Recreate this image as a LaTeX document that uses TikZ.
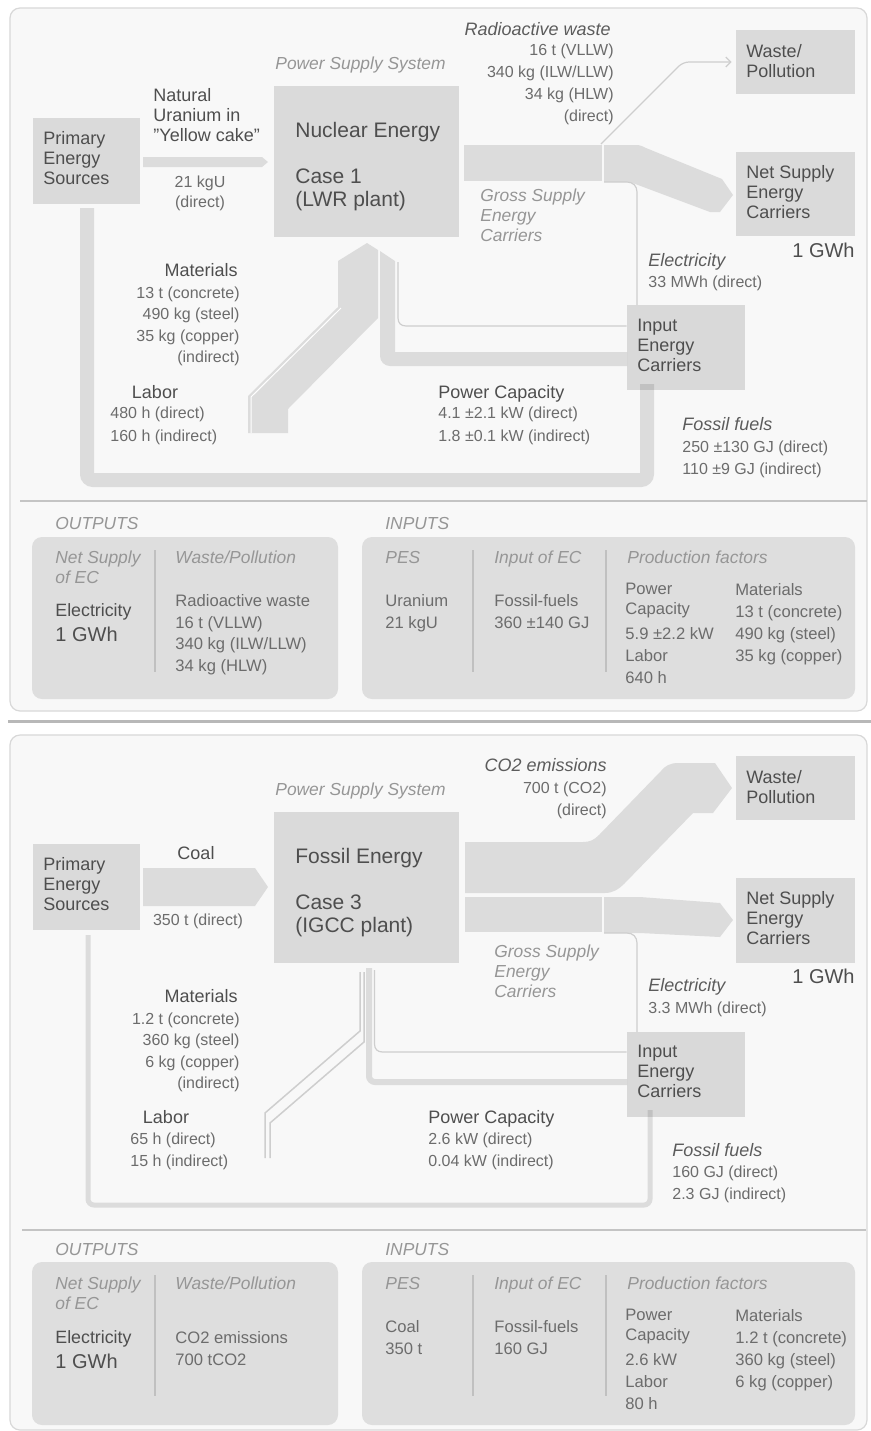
\documentclass[tikz,border=0pt]{standalone}
\usepackage{fontspec}
\setmainfont{Liberation Sans}
\usetikzlibrary{arrows.meta}

\definecolor{panelbg}{RGB}{248,248,248}
\definecolor{panelrule}{RGB}{216,216,216}
\definecolor{boxfill}{RGB}{218,218,218}
\definecolor{flowfill}{RGB}{220,220,220}
\definecolor{flowline}{RGB}{206,206,206}
\definecolor{sumfill}{RGB}{222,222,222}
\definecolor{sumrule}{RGB}{192,192,192}
\definecolor{sepline}{RGB}{196,196,196}
\definecolor{shadeline}{RGB}{184,184,184}
\definecolor{txtmain}{RGB}{78,78,78}
\definecolor{txtval}{RGB}{108,108,108}
\definecolor{txtlight}{RGB}{150,150,150}
\definecolor{txtital}{RGB}{92,92,92}

\tikzset{
  blk/.style={fill=boxfill, inner sep=0pt},
  tl/.style={inner sep=0pt, anchor=north west, align=left},
  tr/.style={inner sep=0pt, anchor=north east, align=right},
  tc/.style={inner sep=0pt, anchor=north, align=center},
  boxtext/.style={font=\fontsize{9}{10}\selectfont, text=txtmain},
  planttext/.style={font=\fontsize{10.5}{11.5}\selectfont, text=txtmain},
  head/.style={font=\fontsize{9}{10}\selectfont, text=txtmain},
  val/.style={font=\fontsize{8}{11}\selectfont, text=txtval},
  note/.style={font=\itshape\fontsize{8.7}{10}\selectfont, text=txtlight},
  flowname/.style={font=\itshape\fontsize{9}{10}\selectfont, text=txtital},
  sumval/.style={font=\fontsize{8.3}{10.8}\selectfont, text=txtval},
  sumhead/.style={font=\fontsize{8.9}{10}\selectfont, text=txtmain},
  gwh/.style={font=\fontsize{10}{12}\selectfont, text=txtmain},
  thinflow/.style={draw=flowline, line width=0.6pt},
  panel/.style={fill=panelbg, draw=panelrule, line width=0.6pt, rounded corners=5pt},
  sumbox/.style={fill=sumfill, rounded corners=5pt},
  divider/.style={draw=sumrule, line width=0.6pt},
}

\begin{document}
\begin{tikzpicture}[x=0.5pt,y=-0.5pt]
\useasboundingbox[fill=white] (0,0) rectangle (871,1431);

% =================== upper panel: nuclear energy ===================
\path[panel] (10,8) rectangle (867,711);
\draw[sepline, line width=0.6pt] (20,501) -- (867,501);
\draw[shadeline, line width=1.5pt] (8,721) -- (871,721);

% flows
\fill[flowfill] (143,157) -- (262,157) -- (268,162) -- (262,167) -- (143,167) -- cycle;
\draw[flowfill, line width=7pt, rounded corners=3pt] (87,208) -- (87,480) -- (647,480) -- (647,384);
\fill[flowfill] (248,433) -- (248,396) -- (338,307) -- (338,261) -- (367,243) -- (378,250)
  -- (378,318) -- (288,409) -- (288,433) -- cycle;
\draw[white, line width=0.5pt] (251,433) -- (251,397) -- (341,308);
\fill[flowfill] (380,251) -- (395,261) -- (395,352) -- (627,352) -- (627,366) -- (390,366)
  .. controls (384.5,366) and (380,361.5) .. (380,356) -- cycle;
\fill[flowfill] (464,145) rectangle (602,181);
\fill[flowfill] (604,145) -- (636,145) .. controls (640,145) and (642,146) .. (646,148)
  -- (722,179) -- (733,195) -- (720,212) -- (710,212) -- (630,182) -- (604,182) -- cycle;

% boxes
\node[blk, minimum width=53.5pt, minimum height=43pt] (pesA) at (86.5,161) {};
\node[blk, minimum width=92.5pt, minimum height=75.5pt] (nucA) at (366.5,161.5) {};
\node[blk, minimum width=59.5pt, minimum height=32pt] (wasteA) at (795.5,62) {};
\node[blk, minimum width=59.5pt, minimum height=42pt] (netA) at (795.5,194) {};
\node[fill=black, fill opacity=0.12, inner sep=0pt, minimum width=59pt, minimum height=42.5pt] (inA) at (686,347.5) {};

% thin connectors
\draw[thinflow, rounded corners=3pt, -{Straight Barb[length=2.5pt,width=5pt]}]
  (601,144) -- (683,62) -- ([xshift=-2pt]wasteA.west);
\coordinate (elA) at (604,182);
\draw[thinflow] (elA) -- (627,182) .. controls (633,182) and (637,186) .. (637,192) -- (637,305);
\draw[thinflow] (398,262) -- (398,318) .. controls (398,323) and (401,326) .. (406,326) -- (inA.west |- 0,326);

% texts
\node[tl, boxtext] (pesAt) at (43,131) {Primary\\Energy\\Sources};
\node[tl, head] (uranA) at (153,88) {Natural\\Uranium in\\\char"22{}Yellow cake\char"22{}};
\node[tc, val, font=\fontsize{8}{10}\selectfont] (uranAv) at (200,175) {21 kgU\\(direct)};
\node[tl, note] (pssA) at (275,56) {Power Supply System};
\node[tl, planttext] (nucAt) at (295,122) {Nuclear Energy\\[11.5pt]Case 1\\(LWR plant)};
\node[tr, flowname] (radA) at (611,22) {Radioactive waste};
\node[tr, val] (radAv) at (614,43) {16 t (VLLW)\\340 kg (ILW/LLW)\\34 kg (HLW)\\(direct)};
\node[tl, boxtext] (wasteAt) at (746,44.5) {Waste/\\Pollution};
\node[tl, boxtext] (netAt) at (746,165) {Net Supply\\Energy\\Carriers};
\node[tr, gwh] (gwhA) at (855,243) {1 GWh};
\node[tl, note] (grossA) at (480,188.5) {Gross Supply\\Energy\\Carriers};
\node[tl, flowname] (elecA) at (648,253) {Electricity};
\node[tl, val] (elecAv) at (648,275) {33 MWh (direct)};
\node[tl, boxtext] (inAt) at (637,319) {Input\\Energy\\Carriers};
\node[tr, head] (matA) at (238,263) {Materials};
\node[tr, val, font=\fontsize{8}{10.8}\selectfont] (matAv) at (240,286) {13 t (concrete)\\490 kg (steel)\\35 kg (copper)\\(indirect)};
\node[tc, head] (labA) at (155,385) {Labor};
\node[tl, val, font=\fontsize{8}{11.5}\selectfont] (labAv) at (110,406) {480 h (direct)\\160 h (indirect)};
\node[tl, head] (capA) at (438,385) {Power Capacity};
\node[tl, val, font=\fontsize{8}{11.5}\selectfont] (capAv) at (438,406) {4.1 ±2.1 kW (direct)\\1.8 ±0.1 kW (indirect)};
\node[tl, flowname] (fosA) at (682,417) {Fossil fuels};
\node[tl, val] (fosAv) at (682,440) {250 ±130 GJ (direct)\\110 ±9 GJ (indirect)};

% summary
\node[tl, note] (outA) at (55,516.5) {OUTPUTS};
\node[tl, note] (inpA) at (385,516.5) {INPUTS};
\path[sumbox] (32,537) rectangle (338,699);
\path[sumbox] (362,537) rectangle (855,699);
\draw[divider] (155,550) -- (155,672);
\draw[divider] (473,550) -- (473,672);
\draw[divider] (606,550) -- (606,672);
\node[tl, note] (sA1) at (55,550.5) {Net Supply\\of EC};
\node[tl, sumhead] (sA2) at (55,603.5) {Electricity};
\node[tl, gwh] (sA3) at (55,626.5) {1 GWh};
\node[tl, note] (sA4) at (175,550.5) {Waste/Pollution};
\node[tl, sumval] (sA5) at (175,594) {Radioactive waste\\16 t (VLLW)\\340 kg (ILW/LLW)\\34 kg (HLW)};
\node[tl, note] (sA6) at (385,550.5) {PES};
\node[tl, sumval] (sA7) at (385,594) {Uranium\\21 kgU};
\node[tl, note] (sA8) at (494,550.5) {Input of EC};
\node[tl, sumval] (sA9) at (494,594) {Fossil-fuels\\360 ±140 GJ};
\node[tl, note] (sA10) at (627,550.5) {Production factors};
\node[tl, sumval, font=\fontsize{8.3}{9.8}\selectfont] (sA11) at (625,583) {Power\\Capacity};
\node[tl, sumval, font=\fontsize{8.3}{11}\selectfont] (sA12) at (625,627) {5.9 ±2.2 kW\\Labor\\640 h};
\node[tl, sumval, font=\fontsize{8.3}{11}\selectfont] (sA13) at (735,583) {Materials\\13 t (concrete)\\490 kg (steel)\\35 kg (copper)};

% =================== lower panel: fossil energy ===================
\path[panel] (10,735) rectangle (867,1430);
\draw[sepline, line width=0.6pt] (22,1230) -- (866,1230);

% flows
\fill[flowfill] (143,868) -- (255,868) -- (268,887) -- (255,906) -- (143,906) -- cycle;
\draw[flowfill, line width=2.5pt, rounded corners=3pt] (88,935) -- (88,1205) -- (650,1205) -- (650,1110);
\draw[flowline, line width=0.75pt] (265,1158) -- (265,1113) -- (360,1031) -- (360,972);
\draw[flowline, line width=0.75pt] (270,1158) -- (270,1123) -- (364,1042) -- (364,972);
\draw[flowfill, line width=3pt, rounded corners=3pt] (369,968) -- (369,1082) -- (627,1082);
\fill[flowfill] (465,842) -- (583,842) .. controls (590,842) and (594,840) .. (599,835)
  -- (661,771) .. controls (665,766) and (670,763) .. (678,763) -- (715,763) -- (732,788)
  -- (713,813) -- (693,813) -- (624,884) .. controls (619,889) and (613,893) .. (605,893)
  -- (465,893) -- cycle;
\fill[flowfill] (465,897) rectangle (602,932);
\fill[flowfill] (604,897) -- (640,897) -- (720,903) -- (733,920) -- (720,937) -- (640,933) -- (604,933) -- cycle;

% boxes
\node[blk, minimum width=53.5pt, minimum height=43pt] (pesB) at (86.5,887) {};
\node[blk, minimum width=92.5pt, minimum height=75.5pt] (nucB) at (366.5,887.5) {};
\node[blk, minimum width=59.5pt, minimum height=32pt] (wasteB) at (795.5,788) {};
\node[blk, minimum width=59.5pt, minimum height=42.5pt] (netB) at (795.5,920.5) {};
\node[fill=black, fill opacity=0.12, inner sep=0pt, minimum width=59pt, minimum height=42.5pt] (inB) at (686,1074.5) {};

% thin connectors
\coordinate (elB) at (604,933);
\draw[thinflow] (elB) -- (627,933) .. controls (633,933) and (637,937) .. (637,943) -- (637,1032);
\draw[thinflow] (374.5,970) -- (374.5,1044) .. controls (374.5,1049) and (377.5,1052) .. (382.5,1052) -- (inB.west |- 0,1052);

% texts
\node[tl, boxtext] (pesBt) at (43,857) {Primary\\Energy\\Sources};
\node[tc, head] (coalB) at (196,846) {Coal};
\node[tc, val] (coalBv) at (198,913) {350 t (direct)};
\node[tl, note] (pssB) at (275,782) {Power Supply System};
\node[tl, planttext] (nucBt) at (295,848) {Fossil Energy\\[11.5pt]Case 3\\(IGCC plant)};
\node[tr, flowname] (co2B) at (607,758) {CO2 emissions};
\node[tr, val] (co2Bv) at (607,781) {700 t (CO2)\\(direct)};
\node[tl, boxtext] (wasteBt) at (746,770) {Waste/\\Pollution};
\node[tl, boxtext] (netBt) at (746,891) {Net Supply\\Energy\\Carriers};
\node[tr, gwh] (gwhB) at (855,969) {1 GWh};
\node[tl, note] (grossB) at (494,944.5) {Gross Supply\\Energy\\Carriers};
\node[tl, flowname] (elecB) at (648,978) {Electricity};
\node[tl, val] (elecBv) at (648,1001) {3.3 MWh (direct)};
\node[tl, boxtext] (inBt) at (637,1045) {Input\\Energy\\Carriers};
\node[tr, head] (matB) at (238,989) {Materials};
\node[tr, val, font=\fontsize{8}{10.8}\selectfont] (matBv) at (240,1012) {1.2 t (concrete)\\360 kg (steel)\\6 kg (copper)\\(indirect)};
\node[tc, head] (labB) at (166,1110) {Labor};
\node[tl, val] (labBv) at (130,1132) {65 h (direct)\\15 h (indirect)};
\node[tl, head] (capB) at (428,1110) {Power Capacity};
\node[tl, val] (capBv) at (428,1132) {2.6 kW (direct)\\0.04 kW (indirect)};
\node[tl, flowname] (fosB) at (672,1143) {Fossil fuels};
\node[tl, val] (fosBv) at (672,1165) {160 GJ (direct)\\2.3 GJ (indirect)};

% summary
\node[tl, note] (outB) at (55,1242.5) {OUTPUTS};
\node[tl, note] (inpB) at (385,1242.5) {INPUTS};
\path[sumbox] (32,1262) rectangle (338,1425);
\path[sumbox] (362,1262) rectangle (855,1425);
\draw[divider] (155,1275) -- (155,1396);
\draw[divider] (473,1275) -- (473,1396);
\draw[divider] (606,1275) -- (606,1396);
\node[tl, note] (sB1) at (55,1276.5) {Net Supply\\of EC};
\node[tl, sumhead] (sB2) at (55,1330.5) {Electricity};
\node[tl, gwh] (sB3) at (55,1353.5) {1 GWh};
\node[tl, note] (sB4) at (175,1276.5) {Waste/Pollution};
\node[tl, sumval] (sB5) at (175,1331) {CO2 emissions\\700 tCO2};
\node[tl, note] (sB6) at (385,1276.5) {PES};
\node[tl, sumval] (sB7) at (385,1320) {Coal\\350 t};
\node[tl, note] (sB8) at (494,1276.5) {Input of EC};
\node[tl, sumval] (sB9) at (494,1320) {Fossil-fuels\\160 GJ};
\node[tl, note] (sB10) at (627,1276.5) {Production factors};
\node[tl, sumval, font=\fontsize{8.3}{9.8}\selectfont] (sB11) at (625,1309) {Power\\Capacity};
\node[tl, sumval, font=\fontsize{8.3}{11}\selectfont] (sB12) at (625,1353) {2.6 kW\\Labor\\80 h};
\node[tl, sumval, font=\fontsize{8.3}{11}\selectfont] (sB13) at (735,1309) {Materials\\1.2 t (concrete)\\360 kg (steel)\\6 kg (copper)};
\end{tikzpicture}
\end{document}
